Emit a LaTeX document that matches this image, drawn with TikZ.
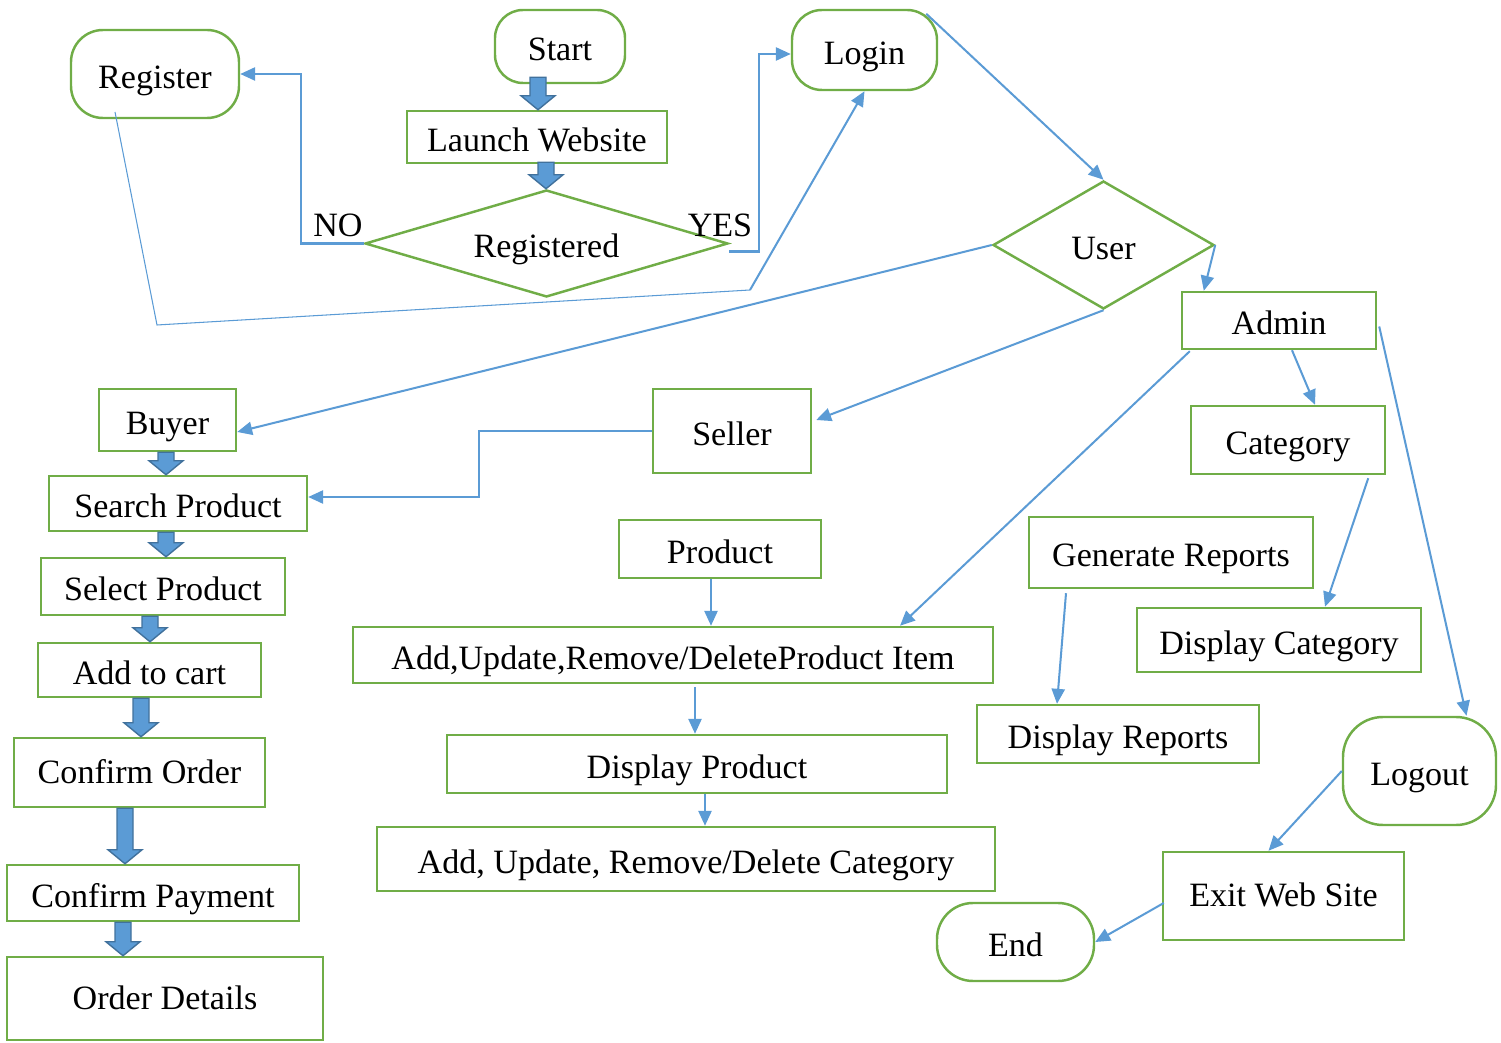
\documentclass[tikz,border=0pt]{standalone}
\usepackage{fontspec}
\setmainfont{Liberation Serif}
\usetikzlibrary{arrows.meta,calc,shapes.geometric}
\newcommand\pxu{0.02cm}
\definecolor{gr}{HTML}{70AD47}
\definecolor{bl}{HTML}{5B9BD5}
\definecolor{bld}{HTML}{41719C}
\newcommand\blockarr[2]{%
  \draw[barrow] let \p1=#1, \p2=#2 in
    (\x1-8*\pxu,\y1) -- (\x1-8*\pxu,\y2+14*\pxu) -- (\x1-17*\pxu,\y2+14*\pxu) --
    (\x1,\y2) -- (\x1+17*\pxu,\y2+14*\pxu) -- (\x1+8*\pxu,\y2+14*\pxu) --
    (\x1+8*\pxu,\y1) -- cycle;}
\begin{document}
\begin{tikzpicture}[x=0.02cm,y=-0.02cm,
  every node/.style={font=\fontsize{19.4}{22}\selectfont, text=black, inner sep=0pt, text height=16pt, text depth=0pt},
  box/.style 2 args={draw=gr, line width=1.4pt, minimum width=#1*\pxu, minimum height=#2*\pxu},
  term/.style n args={3}{draw=gr, line width=1.4pt, rounded corners=#3*\pxu, minimum width=#1*\pxu, minimum height=#2*\pxu},
  dia/.style={diamond, draw=gr, line width=1.4pt},
  conn/.style={draw=bl, line width=1.15pt, -{Triangle[length=8.5pt,width=7.5pt]}},
  thinl/.style={draw=bl, line width=0.6pt},
  barrow/.style={fill=bl, draw=bld, line width=0.8pt, line join=miter}
]
\useasboundingbox (0,0) rectangle (1501,1043);

% nodes
\node[term={130}{73}{28}] (start) at (560,46.5) {Start};
\node[term={145}{80}{30}] (login) at (864.5,50) {Login};
\node[term={168}{88}{32}] (register) at (155,74) {Register};
\node[box={260}{52}] (launch) at (537,137) {Launch Website};
\node[dia, aspect=3.4, minimum width=363*\pxu, minimum height=107*\pxu] (reg) at (546.5,243.5) {Registered};
\node (no) at (338,222) {NO};
\node (yes) at (720,222) {YES};
\node[dia, aspect=1.73, minimum width=221*\pxu, minimum height=128*\pxu] (user) at (1103.5,245) {User};
\node[box={194}{57}] (admin) at (1279,320.5) {Admin};
\node[box={137}{62}] (buyer) at (167.5,420) {Buyer};
\node[box={158}{84}] (seller) at (732,431) {Seller};
\node[box={258}{55}] (search) at (178,503.5) {Search Product};
\node[box={244}{57}] (select) at (163,586.5) {Select Product};
\node[box={223}{54}] (addcart) at (149.5,670) {Add to cart};
\node[box={251}{69}, text height=12pt] (corder) at (139.5,772.5) {Confirm Order};
\node[box={292}{56}] (cpay) at (153,893) {Confirm Payment};
\node[box={316}{83}, text height=13pt] (odet) at (165,998.5) {Order Details};
\node[box={202}{58}] (product) at (720,549) {Product};
\node[box={640}{56}] (pitem) at (673,655) {Add,Update,Remove/DeleteProduct Item};
\node[box={500}{58}] (dprod) at (697,764) {Display Product};
\node[box={618}{64}] (cadd) at (686,859) {Add, Update, Remove/Delete Category};
\node[box={194}{68}] (cat) at (1288,440) {Category};
\node[box={284}{71}] (genrep) at (1171,552.5) {Generate Reports};
\node[box={284}{64}] (dcat) at (1279,640) {Display Category};
\node[box={282}{58}] (drep) at (1118,734) {Display Reports};
\node[term={153}{108}{40}] (logout) at (1419.5,771) {Logout};
\node[box={241}{88}, text height=12pt] (exit) at (1283.5,896) {Exit Web Site};
\node[term={157}{78}{36}] (end) at (1015.5,942) {End};

\coordinate (j0) at (157,325);
\coordinate (j1) at (750,290);

% block arrows
\blockarr{([xshift=-22*\pxu,yshift=7*\pxu]start.south)}{(launch.north)}
\blockarr{([xshift=9*\pxu,yshift=2*\pxu]launch.south)}{(reg.north)}
\blockarr{([xshift=-1.5*\pxu]buyer.south)}{(search.north)}
\blockarr{([xshift=-12*\pxu]search.south)}{(select.north)}
\blockarr{([xshift=-13*\pxu]select.south)}{(addcart.north)}
\blockarr{([xshift=-8.5*\pxu]addcart.south)}{(corder.north)}
\blockarr{([xshift=-14.5*\pxu]corder.south)}{(cpay.north)}
\blockarr{([xshift=-30*\pxu]cpay.south)}{(odet.north)}

% connectors
\draw[conn] (reg.west) -- ++(-63,0) |- (register.east);
\draw[conn] ([yshift=-8*\pxu]reg.east) -- ++(30,0) |- ([yshift=-4*\pxu]login.west);
\draw[thinl] ([xshift=-40*\pxu,yshift=-38*\pxu]register.center) -- (j0) -- (j1);
\draw[conn] (j1) -- (login.south);
\draw[conn] ([xshift=-12*\pxu,yshift=-5*\pxu]login.north east) -- (user.north);
\draw[conn] (user.east) -- ([xshift=23*\pxu]admin.north west);
\draw[conn] (user.west) -- ([yshift=-12*\pxu]buyer.east);
\draw[conn] (user.south) -- ([xshift=4*\pxu,yshift=11*\pxu]seller.east);
\draw[conn] (seller.west) -- ++(-173,0) |- ([yshift=6.5*\pxu]search.east);
\draw[conn] ([xshift=9*\pxu,yshift=-1*\pxu]admin.south west) -- ([xshift=227*\pxu]pitem.north);
\draw[conn] ([xshift=13*\pxu]admin.south) -- ([xshift=27*\pxu]cat.north);
\draw[conn] ([xshift=2*\pxu,yshift=-6*\pxu]admin.east) -- ([xshift=47*\pxu]logout.north);
\draw[conn] ([xshift=-18*\pxu,yshift=-3*\pxu]cat.south east) -- ([xshift=46*\pxu]dcat.north);
\draw[conn] ([xshift=-105*\pxu,yshift=-4*\pxu]genrep.south) -- ([xshift=-61*\pxu]drep.north);
\draw[conn] ([xshift=-9*\pxu]product.south) -- ([xshift=38*\pxu]pitem.north);
\draw[conn] ([xshift=22*\pxu,yshift=-3*\pxu]pitem.south) -- ([xshift=-2*\pxu]dprod.north);
\draw[conn] ([xshift=8*\pxu]dprod.south) -- ([xshift=19*\pxu]cadd.north);
\draw[conn] (logout.west) -- ([xshift=-15*\pxu]exit.north);
\draw[conn] ([xshift=2*\pxu,yshift=-7*\pxu]exit.west) -- (end.east);
\end{tikzpicture}
\end{document}
